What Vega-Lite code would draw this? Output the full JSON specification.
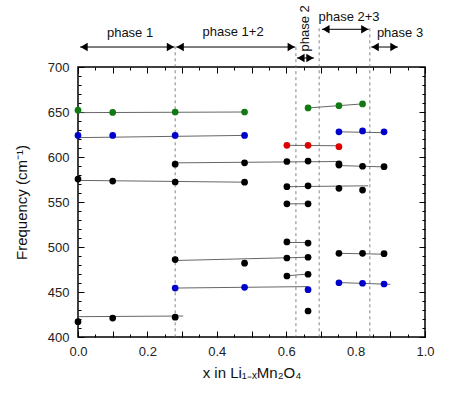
{
  "$schema": "https://vega.github.io/schema/vega-lite/v6.json",
  "width": 347,
  "height": 270,
  "autosize": "none",
  "padding": {"left": 78, "top": 67, "right": 25, "bottom": 57},
  "background": "white",
  "config": {
    "font": "Liberation Sans",
    "view": {"stroke": "black", "strokeWidth": 1.5},
    "axis": {"grid": false, "domain": false, "tickColor": "black", "tickSize": -6, "labelColor": "#222", "labelFont": "Liberation Sans", "labelFontSize": 13, "titleFont": "Liberation Sans", "titleFontSize": 14, "titleFontWeight": "normal", "titleColor": "#111"}
  },
  "datasets": {
    "pts": [
      {"x": 0.0, "y": 652, "c": "g"}, {"x": 0.1, "y": 649.5, "c": "g"}, {"x": 0.28, "y": 650, "c": "g"}, {"x": 0.48, "y": 650, "c": "g"},
      {"x": 0.663, "y": 654.5, "c": "g"}, {"x": 0.752, "y": 657, "c": "g"}, {"x": 0.82, "y": 659, "c": "g"},
      {"x": 0.0, "y": 624, "c": "b"}, {"x": 0.1, "y": 624, "c": "b"}, {"x": 0.28, "y": 624, "c": "b"}, {"x": 0.48, "y": 624, "c": "b"},
      {"x": 0.752, "y": 628, "c": "b"}, {"x": 0.82, "y": 629, "c": "b"}, {"x": 0.882, "y": 628, "c": "b"},
      {"x": 0.602, "y": 613, "c": "r"}, {"x": 0.663, "y": 613, "c": "r"}, {"x": 0.752, "y": 611.5, "c": "r"},
      {"x": 0.28, "y": 592, "c": "k"}, {"x": 0.48, "y": 593.5, "c": "k"}, {"x": 0.602, "y": 595, "c": "k"}, {"x": 0.663, "y": 595.5, "c": "k"},
      {"x": 0.752, "y": 592.5, "c": "k"}, {"x": 0.752, "y": 591, "c": "k"}, {"x": 0.82, "y": 589.7, "c": "k"}, {"x": 0.882, "y": 589.2, "c": "k"},
      {"x": 0.0, "y": 575.5, "c": "k"}, {"x": 0.1, "y": 573.3, "c": "k"}, {"x": 0.28, "y": 572.2, "c": "k"}, {"x": 0.48, "y": 572, "c": "k"},
      {"x": 0.602, "y": 567, "c": "k"}, {"x": 0.663, "y": 568, "c": "k"}, {"x": 0.752, "y": 565.2, "c": "k"}, {"x": 0.82, "y": 563.3, "c": "k"},
      {"x": 0.602, "y": 548, "c": "k"}, {"x": 0.663, "y": 548, "c": "k"},
      {"x": 0.602, "y": 505.6, "c": "k"}, {"x": 0.663, "y": 504.4, "c": "k"},
      {"x": 0.28, "y": 486, "c": "k"}, {"x": 0.48, "y": 482, "c": "k"}, {"x": 0.602, "y": 487.8, "c": "k"}, {"x": 0.663, "y": 488.6, "c": "k"},
      {"x": 0.752, "y": 493, "c": "k"}, {"x": 0.82, "y": 493, "c": "k"}, {"x": 0.882, "y": 492.6, "c": "k"},
      {"x": 0.602, "y": 467.8, "c": "k"}, {"x": 0.663, "y": 469.7, "c": "k"},
      {"x": 0.28, "y": 454.4, "c": "b"}, {"x": 0.48, "y": 455.2, "c": "b"}, {"x": 0.663, "y": 452.6, "c": "b"},
      {"x": 0.752, "y": 460.3, "c": "b"}, {"x": 0.82, "y": 459.7, "c": "b"}, {"x": 0.882, "y": 458.9, "c": "b"},
      {"x": 0.663, "y": 428.9, "c": "k"},
      {"x": 0.0, "y": 417, "c": "k"}, {"x": 0.1, "y": 421, "c": "k"}, {"x": 0.28, "y": 422, "c": "k"}
    ],
    "fits": [
      {"x": 0.0, "y": 649.3, "x2": 0.48, "y2": 650},
      {"x": 0.663, "y": 654.5, "x2": 0.82, "y2": 659},
      {"x": 0.0, "y": 621.5, "x2": 0.48, "y2": 624},
      {"x": 0.752, "y": 628, "x2": 0.882, "y2": 627},
      {"x": 0.602, "y": 613, "x2": 0.752, "y2": 612.5},
      {"x": 0.28, "y": 593.5, "x2": 0.752, "y2": 595},
      {"x": 0.752, "y": 590.5, "x2": 0.882, "y2": 589},
      {"x": 0.0, "y": 574, "x2": 0.48, "y2": 572},
      {"x": 0.602, "y": 567, "x2": 0.836, "y2": 568},
      {"x": 0.602, "y": 548, "x2": 0.663, "y2": 548},
      {"x": 0.602, "y": 505, "x2": 0.663, "y2": 505},
      {"x": 0.28, "y": 485, "x2": 0.663, "y2": 488.6},
      {"x": 0.752, "y": 493, "x2": 0.882, "y2": 492},
      {"x": 0.602, "y": 468, "x2": 0.663, "y2": 470},
      {"x": 0.28, "y": 454.4, "x2": 0.663, "y2": 456},
      {"x": 0.752, "y": 460.5, "x2": 0.9, "y2": 458.5},
      {"x": 0.0, "y": 422.6, "x2": 0.303, "y2": 423.3}
    ],
    "vlines": [
      {"x": 0.28, "top": 723}, {"x": 0.628, "top": 722}, {"x": 0.695, "top": 743}, {"x": 0.841, "top": 743}
    ],
    "arrows": [
      {"x": 0.006, "x2": 0.278, "y": 722.2},
      {"x": 0.283, "x2": 0.626, "y": 722.2},
      {"x": 0.631, "x2": 0.68, "y": 710},
      {"x": 0.703, "x2": 0.838, "y": 741.9},
      {"x": 0.845, "x2": 0.922, "y": 722.2}
    ],
    "labels": [
      {"x": 0.15, "y": 737.8, "t": "phase 1"},
      {"x": 0.447, "y": 738.9, "t": "phase 1+2"},
      {"x": 0.781, "y": 755.6, "t": "phase 2+3"},
      {"x": 0.928, "y": 737.8, "t": "phase 3"}
    ],
    "vlabels": [
      {"x": 0.654, "y": 743, "t": "phase 2"}
    ]
  },
  "resolve": {"axis": {"x": "independent", "y": "independent"}},
  "layer": [
    {
      "data": {"name": "vlines"},
      "mark": {"type": "rule", "color": "#666", "strokeWidth": 0.8, "strokeDash": [3, 3]},
      "encoding": {
        "x": {"field": "x", "type": "quantitative", "scale": {"domain": [0, 1], "nice": false, "zero": false},
          "axis": {"orient": "bottom", "values": [0, 0.1, 0.2, 0.3, 0.4, 0.5, 0.6, 0.7, 0.8, 0.9, 1.0],
            "labelExpr": "abs(datum.value*5 - round(datum.value*5)) < 0.001 ? format(datum.value, '.1f') : ''", "labelPadding": 14, "title": "x in Li₁₋ₓMn₂O₄", "titleFontSize": 15, "titlePadding": 7, "labelFlush": false}},
        "y": {"field": "top", "type": "quantitative", "scale": {"domain": [400, 700], "nice": false, "zero": false},
          "axis": {"orient": "left", "values": [400, 450, 500, 550, 600, 650, 700],
            "labelPadding": 15, "title": "Frequency (cm⁻¹)", "titleFontSize": 15, "titlePadding": 18}},
        "y2": {"datum": 400}
      }
    },
    {
      "data": {"name": "vlines"},
      "mark": {"type": "point", "opacity": 0},
      "encoding": {
        "x": {"field": "x", "type": "quantitative",
          "axis": {"orient": "top", "values": [0, 0.1, 0.2, 0.3, 0.4, 0.5, 0.6, 0.7, 0.8, 0.9, 1.0], "labels": false, "title": null}},
        "y": {"field": "top", "type": "quantitative",
          "axis": {"orient": "right", "values": [400, 450, 500, 550, 600, 650, 700], "labels": false, "title": null}}
      }
    },
    {
      "data": {"name": "vlines"},
      "mark": {"type": "point", "opacity": 0},
      "encoding": {
        "x": {"field": "x", "type": "quantitative",
          "axis": {"orient": "bottom", "values": [0.05, 0.15, 0.25, 0.35, 0.45, 0.55, 0.65, 0.75, 0.85, 0.95], "tickSize": -3, "labels": false, "title": null}},
        "y": {"field": "top", "type": "quantitative",
          "axis": {"orient": "left", "values": [410, 420, 430, 440, 460, 470, 480, 490, 510, 520, 530, 540, 560, 570, 580, 590, 610, 620, 630, 640, 660, 670, 680, 690], "tickSize": -3, "labels": false, "title": null}}
      }
    },
    {
      "data": {"name": "vlines"},
      "mark": {"type": "point", "opacity": 0},
      "encoding": {
        "x": {"field": "x", "type": "quantitative",
          "axis": {"orient": "top", "values": [0.05, 0.15, 0.25, 0.35, 0.45, 0.55, 0.65, 0.75, 0.85, 0.95], "tickSize": -3, "labels": false, "title": null}},
        "y": {"field": "top", "type": "quantitative",
          "axis": {"orient": "right", "values": [410, 420, 430, 440, 460, 470, 480, 490, 510, 520, 530, 540, 560, 570, 580, 590, 610, 620, 630, 640, 660, 670, 680, 690], "tickSize": -3, "labels": false, "title": null}}
      }
    },
    {
      "data": {"name": "fits"},
      "mark": {"type": "rule", "color": "#555", "strokeWidth": 0.9},
      "encoding": {
        "x": {"field": "x", "type": "quantitative", "axis": null},
        "x2": {"field": "x2"},
        "y": {"field": "y", "type": "quantitative", "axis": null},
        "y2": {"field": "y2"}
      }
    },
    {
      "data": {"name": "pts"},
      "mark": {"type": "point", "filled": true, "opacity": 1, "size": 45, "shape": "circle"},
      "encoding": {
        "x": {"field": "x", "type": "quantitative", "axis": null},
        "y": {"field": "y", "type": "quantitative", "axis": null},
        "color": {"field": "c", "type": "nominal", "legend": null,
          "scale": {"domain": ["g", "b", "r", "k"], "range": ["#127a12", "#0000cc", "#dd0000", "#000000"]}}
      }
    },
    {
      "data": {"name": "arrows"},
      "mark": {"type": "rule", "color": "black", "strokeWidth": 1},
      "encoding": {
        "x": {"field": "x", "type": "quantitative", "axis": null},
        "x2": {"field": "x2"},
        "y": {"field": "y", "type": "quantitative", "axis": null}
      }
    },
    {
      "data": {"name": "arrows"},
      "mark": {"type": "point", "shape": "triangle-left", "filled": true, "color": "black", "opacity": 1, "size": 70, "xOffset": 4},
      "encoding": {
        "x": {"field": "x", "type": "quantitative", "axis": null},
        "y": {"field": "y", "type": "quantitative", "axis": null}
      }
    },
    {
      "data": {"name": "arrows"},
      "mark": {"type": "point", "shape": "triangle-right", "filled": true, "color": "black", "opacity": 1, "size": 70, "xOffset": -4},
      "encoding": {
        "x": {"field": "x2", "type": "quantitative", "axis": null},
        "y": {"field": "y", "type": "quantitative", "axis": null}
      }
    },
    {
      "data": {"name": "labels"},
      "mark": {"type": "text", "fontSize": 13, "color": "#111", "align": "center", "baseline": "middle"},
      "encoding": {
        "x": {"field": "x", "type": "quantitative", "axis": null},
        "y": {"field": "y", "type": "quantitative", "axis": null},
        "text": {"field": "t"}
      }
    },
    {
      "data": {"name": "vlabels"},
      "mark": {"type": "text", "fontSize": 13, "color": "#111", "align": "center", "baseline": "middle", "angle": 270},
      "encoding": {
        "x": {"field": "x", "type": "quantitative", "axis": null},
        "y": {"field": "y", "type": "quantitative", "axis": null},
        "text": {"field": "t"}
      }
    }
  ]
}
